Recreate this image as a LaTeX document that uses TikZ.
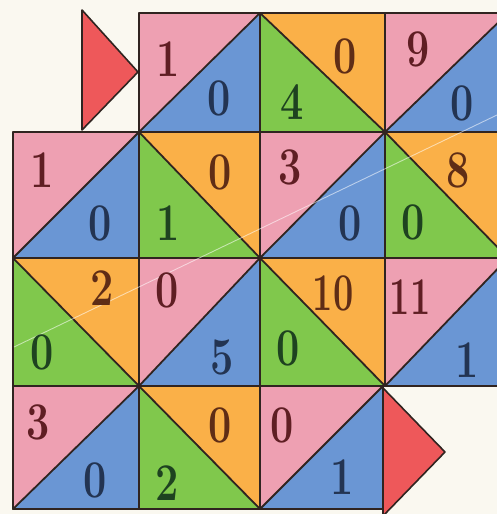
\documentclass[tikz,border=0pt]{standalone}
\usepackage{graphicx}
\definecolor{bg}{RGB}{250,248,240}
\definecolor{pinkc}{RGB}{238,160,178}
\definecolor{bluec}{RGB}{106,150,212}
\definecolor{greenc}{RGB}{128,200,76}
\definecolor{orangec}{RGB}{250,176,72}
\definecolor{redc}{RGB}{238,88,90}
\definecolor{edgec}{RGB}{48,36,32}
\definecolor{pinktxt}{RGB}{95,30,35}
\definecolor{bluetxt}{RGB}{35,52,82}
\definecolor{greentxt}{RGB}{30,66,32}
\definecolor{orangetxt}{RGB}{95,45,22}
\newcommand\nm[1]{\scalebox{0.78}[1]{#1}}
% "/" square: pink upper-left, blue lower-right
\newcommand\sqslash[4]{%
  \fill[pinkc] (#1,#2) -- (#3,#2) -- (#1,#4) -- cycle;
  \fill[bluec] (#3,#2) -- (#3,#4) -- (#1,#4) -- cycle;
  \draw[edgeline] (#1,#4) -- (#3,#2);}
% "\" square: orange upper-right, green lower-left
\newcommand\sqback[4]{%
  \fill[orangec] (#1,#2) -- (#3,#2) -- (#3,#4) -- cycle;
  \fill[greenc] (#1,#2) -- (#1,#4) -- (#3,#4) -- cycle;
  \draw[edgeline] (#1,#2) -- (#3,#4);}
\tikzset{
  edgeline/.style={draw=edgec, line width=1.8pt, line cap=round},
  num/.style={font=\fontsize{53}{53}\selectfont\bfseries, inner sep=0pt},
  onpink/.style={num, text=pinktxt},
  onblue/.style={num, text=bluetxt},
  ongreen/.style={num, text=greentxt},
  onorange/.style={num, text=orangetxt},
  redtri/.style={fill=redc, draw=edgec, line width=1.6pt, line join=round}
}
\begin{document}
\begin{tikzpicture}[x=1pt,y=-1pt]
\useasboundingbox (0,0) rectangle (497,514);
\fill[bg] (0,0) rectangle (497,514);
\begin{scope}
\clip (0,0) rectangle (497,514);
% row 1
\sqslash{139}{13}{260}{132}
\sqback{260}{13}{385}{132}
\sqslash{385}{13}{508}{132}
% row 2
\sqslash{13}{132}{139}{258}
\sqback{139}{132}{260}{258}
\sqslash{260}{132}{385}{258}
\sqback{385}{132}{508}{258}
% row 3
\sqback{13}{258}{139}{386}
\sqslash{139}{258}{260}{386}
\sqback{260}{258}{385}{386}
\sqslash{385}{258}{508}{386}
% row 4
\sqslash{13}{386}{139}{509}
\sqback{139}{386}{260}{509}
\sqslash{260}{386}{383}{509}
% grid lines
\draw[edgeline] (139,13) -- (508,13);
\draw[edgeline] (13,132) -- (508,132);
\draw[edgeline] (13,258) -- (508,258);
\draw[edgeline] (13,386) -- (508,386);
\draw[edgeline] (13,509) -- (383,509);
\draw[edgeline] (13,132) -- (13,509);
\draw[edgeline] (139,13) -- (139,509);
\draw[edgeline] (260,13) -- (260,509);
\draw[edgeline] (385,13) -- (385,386);
\draw[edgeline] (383,386) -- (383,509);
% red triangles
\draw[redtri] (82,10) -- (138,72) -- (82,130) -- cycle;
\draw[redtri] (383,388) -- (445,452) -- (383,516) -- cycle;
% faint crease line
\draw[white, opacity=0.55, line width=0.9pt] (14,347) -- (497,115);
\end{scope}
% numbers row 1
\node[onpink]   (a1) at (168,59)  {\nm{1}};
\node[onblue]   (a2) at (219,98)  {\nm{0}};
\node[onorange] (a3) at (345,56)  {\nm{0}};
\node[ongreen]  (a4) at (292,102) {\nm{4}};
\node[onpink]   (a5) at (418,49)  {\nm{9}};
\node[onblue]   (a6) at (462,103) {\nm{0}};
% row 2
\node[onpink]   (b1) at (42,170)  {\nm{1}};
\node[onblue]   (b2) at (100,223) {\nm{0}};
\node[onorange] (b3) at (220,172) {\nm{0}};
\node[ongreen]  (b4) at (168,223) {\nm{1}};
\node[onpink]   (b5) at (290,167) {\nm{3}};
\node[onblue]   (b6) at (350,223) {\nm{0}};
\node[onorange] (b7) at (458,170) {\nm{8}};
\node[ongreen]  (b8) at (413,222) {\nm{0}};
% row 3
\node[onorange] (c1) at (102,288) {\nm{2}};
\node[ongreen]  (c2) at (42,352)  {\nm{0}};
\node[onpink]   (c3) at (167,290) {\nm{0}};
\node[onblue]   (c4) at (222,357) {\nm{5}};
\node[onorange] (c5) at (333,293) {\scalebox{0.68}[1]{10}};
\node[ongreen]  (c6) at (288,348) {\nm{0}};
\node[onpink]   (c7) at (410,297) {\scalebox{0.68}[1]{11}};
\node[onblue]   (c8) at (467,360) {\nm{1}};
% row 4
\node[onpink]   (d1) at (38,422)  {\nm{3}};
\node[onblue]   (d2) at (95,480)  {\nm{0}};
\node[onorange] (d3) at (220,425) {\nm{0}};
\node[ongreen]  (d4) at (167,483) {\nm{2}};
\node[onpink]   (d5) at (282,425) {\nm{0}};
\node[onblue]   (d6) at (342,477) {\nm{1}};
\end{tikzpicture}
\end{document}
